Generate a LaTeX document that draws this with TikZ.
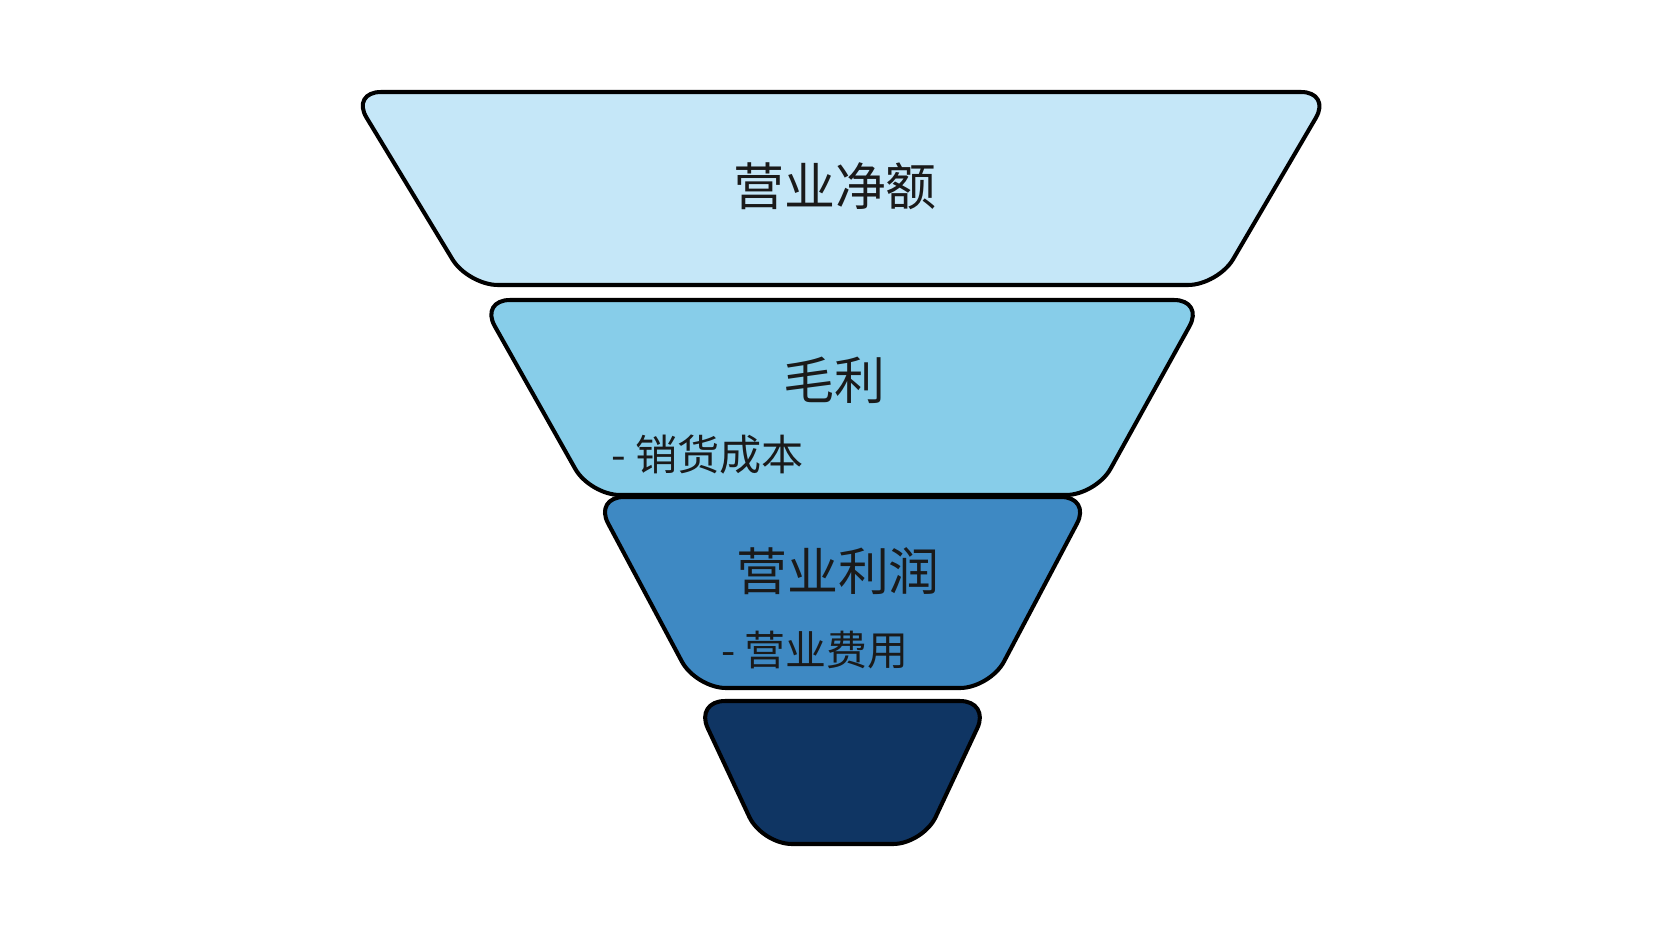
\documentclass[tikz,border=0pt]{standalone}
\usepackage{fontspec}
\usepackage{xcolor}
\setmainfont{Noto Sans CJK SC}
\definecolor{salesblue}{HTML}{C5E7F8}
\definecolor{grossblue}{HTML}{87CDE9}
\definecolor{opblue}{HTML}{3E89C3}
\definecolor{netblue}{HTML}{0F3563}
\definecolor{inkgray}{HTML}{1A1A1A}

\begin{document}
\begin{tikzpicture}[x=0.02cm, y=-0.02cm,
    layer/.style={draw=black, line width=2.3pt, rounded corners=0.6cm, line join=round},
    title/.style={inkgray, inner sep=0pt, font=\fontsize{29}{29}\selectfont},
    minus/.style={inkgray, inner sep=0pt, anchor=west, font=\fontsize{24}{24}\selectfont}]
    \useasboundingbox (0,0) rectangle (1666,937);

    % Layer 1: net sales
    \draw[layer, fill=salesblue] (351,92) -- (1331,92) -- (1218,285) -- (468,285) -- cycle;
    \node[title] (netsales) at (835,186) {营业净额};

    % Layer 2: gross profit, minus cost of goods sold
    \draw[layer, fill=grossblue] (480,300) -- (1204,300) -- (1096,495) -- (590,495) -- cycle;
    \node[title] (gross) at (834,380) {毛利};
    \node[minus] (cogs) at (611,455) {- 销货成本};

    % Layer 3: operating profit, minus operating expenses
    \draw[layer, fill=opblue] (594,497) -- (1091,497) -- (990,688) -- (696,688) -- cycle;
    \node[title] (opprofit) at (838,571) {营业利润};
    \node[minus, font=\fontsize{23.3}{23.3}\selectfont] (opex) at (721,650) {- 营业费用};

    % Layer 4: bottom of the funnel
    \draw[layer, fill=netblue] (695,701) -- (990,701) -- (923,844) -- (762,844) -- cycle;
\end{tikzpicture}
\end{document}
